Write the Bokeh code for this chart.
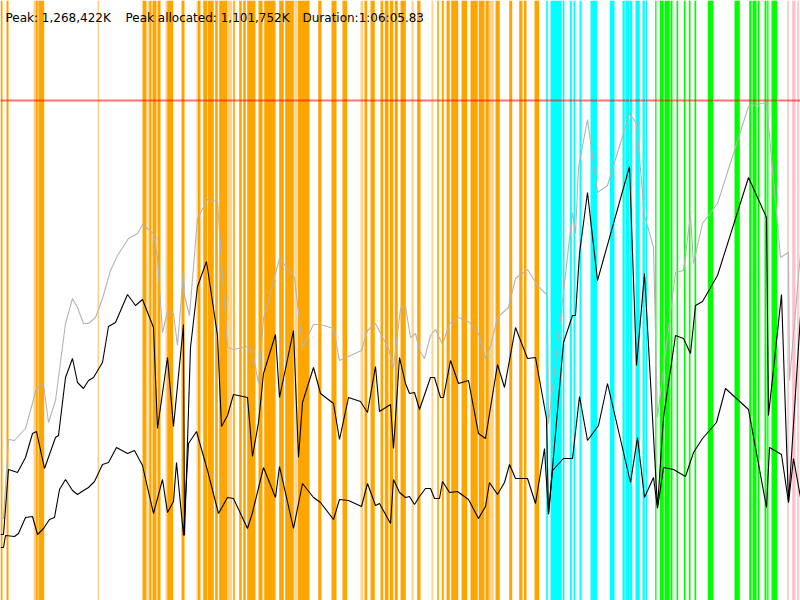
from bokeh.plotting import figure
from bokeh.models import Range1d, Span, Label, ColumnDataSource
from bokeh.embed import file_html
from bokeh.resources import INLINE

# ---------------- data ----------------
title_peak = "Peak: 1,268,422K"
title_alloc = "Peak allocated: 1,101,752K"
title_duration = "Duration:1:06:05.83"

time_span = (0, 800)      # time axis extent (arbitrary time units)
mem_span = (0, 600)       # memory axis extent (arbitrary units)
peak_level = 500          # peak memory level (red line)

# GC event intervals (start, end) by kind
orange_start = [0, 6, 35, 38, 142, 148.7, 152, 157, 166.7, 181, 197.3, 202.7, 207.3, 214.7, 218.7,
                232.7, 238.7, 242.7, 246.7, 258, 263.7, 278.7, 284.7, 297.3, 317.7, 331, 342, 364, 370,
                380, 384.3, 389.3, 394.3, 400, 416.7, 436.7, 441.3, 446, 450.7, 461, 470, 478.3, 485,
                495, 508.7, 518.7, 523.3, 534]
orange_end = [2, 8, 37.3, 43.7, 146, 151, 156, 160, 172.7, 184, 200, 206.7, 213.3, 217.3, 226.7,
              234.3, 241.3, 245.3, 255, 262, 275, 283.3, 293.3, 309, 321, 336, 346.7, 366.7, 374.3,
              382.7, 388, 392.7, 397.3, 405.3, 420, 438.3, 443.3, 449.3, 457.7, 466.7, 477.3, 484, 488.3,
              499.3, 511.7, 522, 526, 538.7]
light_orange_start = [33, 37.3, 97, 147, 165, 196, 226.7, 294, 360, 411, 431, 488.3]
light_orange_end = [34.7, 38, 98.7, 148.3, 166.7, 197.3, 231.7, 296.7, 362.7, 413.3, 432.7, 493.3]
cyan_start = [545.7, 550, 562.3, 569.3, 573, 579, 590, 609.3, 622, 625, 629.3, 635, 642, 645.3]
cyan_end = [547.3, 561.3, 564, 571.3, 574.7, 581, 596.7, 614, 624.3, 628.7, 631.7, 639.3, 644.3, 646.7]
green_start = [654.7, 659.3, 664, 670, 676, 683.3, 688.3, 694, 707.3, 734, 748.7, 752, 757.3, 764,
               766.7, 771]
green_end = [656, 663.3, 669.3, 672, 677.7, 685, 690, 695.7, 712.7, 739.3, 751, 756, 759, 766,
             768, 776.7]
pink_start = [786.7, 791.7, 796.7]
pink_end = [788.3, 795, 798.3]

# heap size (gray)
heap_t = [0, 3, 8, 14, 25, 36, 43, 48, 55, 65, 72, 77, 83, 88, 95, 102, 110, 117, 128, 137,
          142, 153, 157, 162, 167, 173, 177, 183, 184, 189, 197, 207, 217, 227, 233, 247, 252, 258, 263, 279,
          294, 302, 313, 320, 333, 339, 350, 361, 367, 375, 388, 393, 400, 405, 410, 415, 419, 424, 430, 435,
          442, 449, 458, 468, 478, 485, 490, 497, 508, 515, 527, 537, 547, 548, 553, 572, 575, 578, 587, 597,
          607, 629, 636, 644, 653, 657, 675, 683, 690, 693, 702, 717, 748, 766, 780, 788, 789, 800]
heap_v = [82, 82, 161, 160, 172, 212, 216, 178, 200, 277, 302, 293, 277, 277, 283, 302, 330, 345, 362, 367,
          376, 367, 343, 268, 289, 287, 255, 329, 305, 285, 382, 401, 399, 253, 251, 254, 250, 217, 282, 342,
          323, 253, 276, 276, 272, 240, 245, 250, 270, 277, 252, 233, 292, 294, 263, 267, 250, 242, 265, 271,
          256, 277, 283, 279, 267, 242, 254, 283, 293, 322, 331, 315, 305, 177, 220, 388, 367, 433, 481, 408,
          415, 487, 477, 385, 353, 183, 328, 330, 386, 337, 377, 397, 494, 498, 343, 348, 220, 347]

# used before GC (upper black)
used_t = [0, 3, 8, 17, 25, 32, 36, 44, 55, 58, 65, 72, 77, 83, 88, 93, 102, 108, 115, 127,
          135, 142, 153, 157, 167, 173, 183, 184, 190, 197, 206, 217, 221, 227, 233, 247, 252, 258, 263, 275,
          279, 293, 298, 302, 313, 320, 333, 339, 348, 360, 367, 375, 379, 390, 393, 399, 405, 409, 414, 419,
          430, 434, 440, 443, 450, 458, 468, 478, 485, 497, 504, 515, 527, 535, 546, 548, 563, 572, 575, 579,
          587, 597, 629, 636, 644, 657, 663, 675, 683, 690, 695, 702, 717, 748, 766, 768, 781, 788, 800]
used_v = [66, 66, 131, 128, 143, 167, 169, 132, 163, 165, 223, 242, 218, 212, 220, 223, 238, 274, 278, 306,
          295, 301, 273, 172, 243, 174, 276, 65, 253, 314, 339, 265, 174, 185, 206, 203, 144, 178, 227, 266,
          203, 270, 143, 198, 233, 207, 197, 161, 203, 199, 188, 234, 189, 196, 152, 243, 217, 207, 208, 191,
          223, 223, 203, 203, 240, 217, 220, 167, 162, 236, 213, 273, 242, 243, 182, 87, 258, 285, 285, 347,
          408, 320, 434, 235, 327, 93, 183, 265, 262, 247, 295, 299, 325, 423, 383, 185, 306, 98, 285]

# used after GC (lower black)
after_t = [0, 3, 5, 14, 18, 25, 32, 37, 43, 49, 54, 59, 65, 72, 77, 83, 88, 94, 102, 108,
           116, 127, 134, 142, 147, 153, 162, 167, 173, 176, 183, 188, 196, 207, 218, 227, 233, 247, 252, 263,
           275, 279, 293, 302, 313, 320, 333, 339, 348, 361, 367, 375, 379, 390, 393, 399, 405, 409, 414, 419,
           425, 430, 434, 439, 442, 449, 457, 468, 478, 485, 489, 497, 504, 509, 515, 527, 535, 544, 548, 552,
           563, 572, 579, 587, 598, 607, 630, 637, 644, 653, 657, 663, 673, 685, 693, 702, 716, 725, 748, 766,
           769, 781, 788, 793, 800]
after_v = [53, 53, 65, 64, 67, 83, 84, 66, 72, 81, 83, 111, 121, 110, 106, 110, 113, 119, 136, 138,
           153, 147, 150, 135, 113, 87, 121, 88, 99, 138, 65, 157, 169, 130, 87, 103, 102, 72, 88, 133,
           103, 134, 72, 117, 103, 98, 81, 101, 100, 94, 117, 95, 97, 77, 121, 108, 103, 104, 96, 104,
           112, 112, 102, 102, 119, 108, 109, 101, 82, 94, 118, 106, 118, 136, 122, 122, 97, 152, 86, 130,
           142, 142, 204, 160, 175, 217, 118, 163, 103, 123, 92, 133, 131, 124, 148, 162, 178, 212, 191, 93,
           153, 146, 98, 142, 103]

# ---------------- figure ----------------
p = figure(width=800, height=600,
           x_range=Range1d(*time_span), y_range=Range1d(*mem_span),
           output_backend="svg", toolbar_location=None,
           x_axis_location=None, y_axis_location=None,
           min_border=0, outline_line_color=None, background_fill_color="white")
p.grid.visible = False

def bands(starts, ends, color):
    src = ColumnDataSource(dict(left=starts, right=ends,
                                bottom=[mem_span[0]] * len(starts),
                                top=[mem_span[1]] * len(starts)))
    p.quad(left="left", right="right", bottom="bottom", top="top", source=src,
           fill_color=color, line_color=None)

bands(light_orange_start, light_orange_end, "#ffd38a")
bands(orange_start, orange_end, "#ffa500")
bands(cyan_start, cyan_end, "#00ffff")
bands(green_start, green_end, "#00ff00")
bands(pink_start, pink_end, "#ffc0cb")

p.add_layout(Span(location=peak_level, dimension="width", line_color="#ff0000",
                  line_alpha=0.55, line_width=2))

p.line(heap_t, heap_v, line_color="#b4b4b4", line_width=1.1)
p.line(used_t, used_v, line_color="black", line_width=1.1)
p.line(after_t, after_v, line_color="black", line_width=1.1)

for x, txt in [(5, title_peak), (125, title_alloc), (302, title_duration)]:
    p.add_layout(Label(x=x, y=583, text=txt, text_font="DejaVu Sans",
                       text_font_size="12px", text_color="black",
                       text_baseline="alphabetic"))

open("out.html", "w").write(file_html(p, INLINE))
